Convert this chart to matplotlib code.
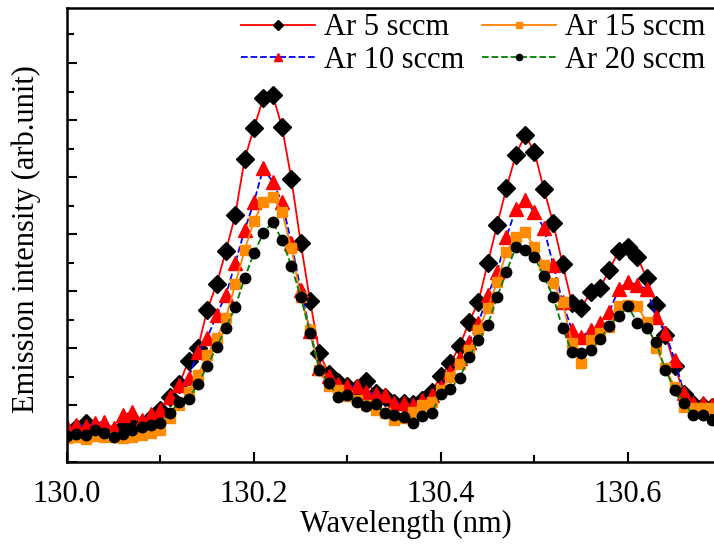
import matplotlib
matplotlib.use('Agg')
import matplotlib.pyplot as plt
from matplotlib.ticker import MultipleLocator, NullFormatter
import numpy as np

plt.rcParams['font.family'] = ['Liberation Serif', 'DejaVu Serif']
plt.rcParams['font.size'] = 22

# wavelength grid (nm), 0.01 nm steps
wavelength = np.round(np.arange(130.00, 130.695, 0.01), 2)

# emission intensity (arb. unit)
ar5 = [30, 34, 39, 34, 32, 30, 35, 36, 38, 44,
       52, 65, 78, 101, 114, 152, 178, 211, 247, 303,
       334, 364, 367, 335, 283, 219, 161, 109, 88, 80,
       76, 74, 81, 69, 65, 59, 59, 58, 62, 70,
       86, 99, 116, 140, 160, 199, 237, 274, 307, 327,
       310, 273, 239, 198, 159, 154, 170, 174, 192, 211,
       215, 205, 184, 157, 127, 96, 68, 58, 56, 55]
ar10 = [35, 37, 36, 39, 40, 34, 47, 50, 42, 48,
        52, 65, 77, 84, 110, 124, 147, 167, 199, 232,
        260, 294, 280, 260, 219, 172, 131, 94, 86, 78,
        76, 76, 70, 68, 67, 59, 59, 57, 62, 67,
        75, 90, 104, 120, 139, 167, 190, 225, 253, 262,
        250, 234, 197, 160, 132, 125, 132, 139, 150, 173,
        180, 177, 173, 145, 129, 102, 69, 59, 59, 57]
ar15 = [24, 25, 23, 26, 25, 25, 24, 25, 27, 29,
        32, 44, 57, 70, 87, 107, 124, 144, 178, 212,
        241, 260, 265, 250, 214, 165, 132, 92, 76, 72,
        66, 62, 57, 52, 49, 42, 44, 50, 57, 60,
        72, 85, 98, 112, 132, 154, 180, 210, 225, 230,
        215, 197, 179, 160, 119, 99, 122, 129, 135, 156,
        157, 156, 140, 114, 94, 75, 55, 54, 54, 54]
ar20 = [26, 28, 27, 32, 29, 25, 28, 32, 35, 37,
        39, 49, 60, 63, 78, 96, 115, 134, 155, 184,
        209, 229, 240, 222, 196, 165, 129, 92, 79, 65,
        67, 60, 56, 58, 49, 47, 45, 39, 46, 49,
        68, 73, 84, 105, 122, 137, 165, 190, 215, 212,
        205, 186, 165, 134, 110, 109, 112, 123, 136, 146,
        156, 139, 134, 120, 92, 72, 59, 47, 47, 42]

fig = plt.figure(figsize=(7.14, 5.44), dpi=100)
ax = fig.add_axes([0.0938, 0.1507, 0.9167, 0.8346])

ax.plot(wavelength, ar5, '-', color='#ff0000', lw=1.3, marker='D', ms=9,
        mfc='black', mec='black', label='Ar 5 sccm')
ax.plot(wavelength, ar10, '--', color='#0000ff', lw=1.3, marker='^', ms=9.5,
        mfc='#ff0000', mec='#ff0000', label='Ar 10 sccm')
ax.plot(wavelength, ar15, '-', color='#ff8000', lw=1.3, marker='s', ms=6.5,
        mfc='#ff8c00', mec='#ff8c00', label='Ar 15 sccm')
ax.plot(wavelength, ar20, '--', color='#008000', lw=1.3, marker='o', ms=7.5,
        mfc='black', mec='black', label='Ar 20 sccm')

ax.set_xlim(130.0, 130.7)
ax.set_ylim(0, 454)
ax.xaxis.set_major_locator(MultipleLocator(0.2))
ax.xaxis.set_minor_locator(MultipleLocator(0.1))
ax.yaxis.set_major_locator(MultipleLocator(57))
ax.yaxis.set_minor_locator(MultipleLocator(28.5))
ax.yaxis.set_major_formatter(NullFormatter())
ax.xaxis.set_major_formatter(plt.FuncFormatter(lambda v, p: '%.1f' % v))

ax.tick_params(which='both', direction='in', top=False, right=False, width=1.5)
ax.tick_params(which='major', length=7, pad=13)
ax.tick_params(which='minor', length=5)
for s in ax.spines.values():
    s.set_linewidth(1.8)

ax.set_xlabel('Wavelength (nm)')
ax.xaxis.set_label_coords(0.518, -0.105)
ax.set_ylabel('Emission intensity (arb.unit)')
ax.yaxis.set_label_coords(-0.04, 0.49)

ax.legend(ncol=2, loc='upper right', bbox_to_anchor=(1.008, 1.035), frameon=False,
          markerscale=0.6, handlelength=2.4, handletextpad=0.3, columnspacing=0.6,
          labelspacing=0.1, borderpad=0.2)

plt.savefig('out.png', dpi=100)
